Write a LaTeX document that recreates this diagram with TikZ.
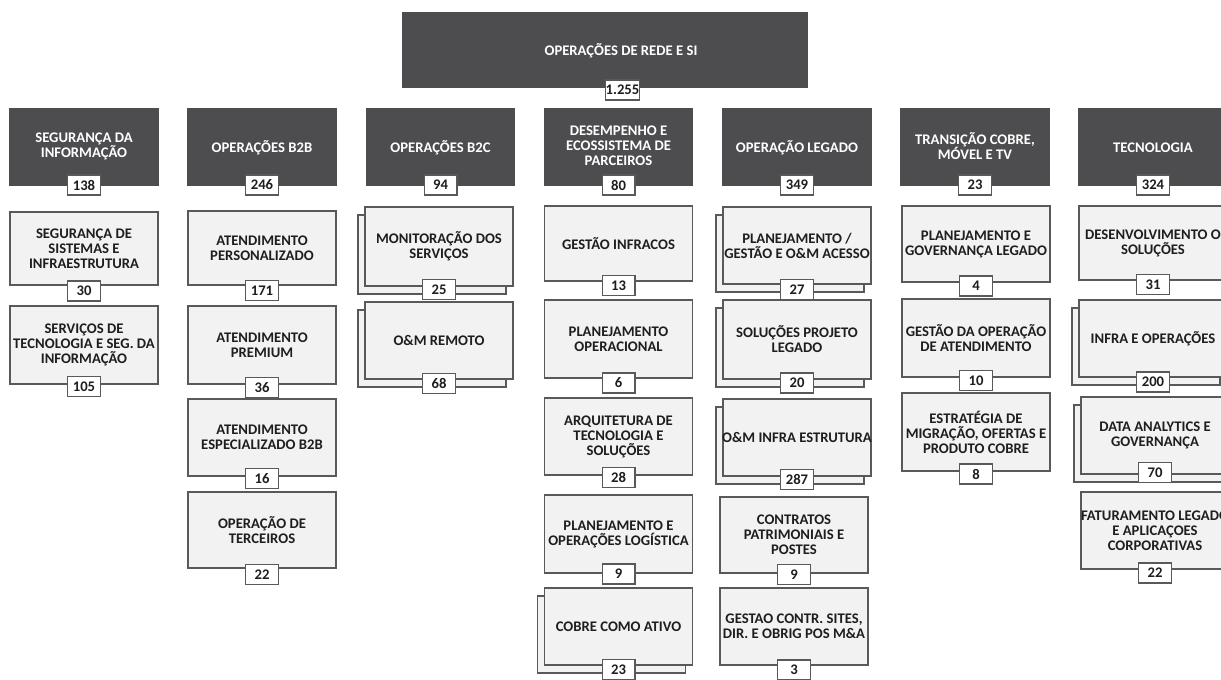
\documentclass[tikz,border=0pt]{standalone}
\usepackage{fontspec}
\setmainfont{Carlito}
\definecolor{hdr}{RGB}{77,77,79}
\definecolor{cfill}{RGB}{242,242,242}
\definecolor{edge}{RGB}{89,89,89}
\definecolor{txt}{RGB}{30,30,30}
\tikzset{
  hdrbox/.style={fill=hdr, draw=none, minimum width=112pt, minimum height=58.5pt, inner sep=0pt},
  hdrtext/.style={text=white, font=\bfseries\fontsize{11}{11.25}\selectfont, align=center, inner sep=0pt},
  childbox/.style={fill=cfill, draw=edge, line width=1.1pt, minimum width=111pt, inner sep=0pt},
  childtext/.style={text=txt, font=\bfseries\fontsize{11}{11.25}\selectfont, align=center, inner sep=0pt},
  numbox/.style={fill=white, draw=edge, line width=1pt, minimum width=24.5pt, minimum height=15pt, inner sep=0pt, text=txt, font=\bfseries\fontsize{11}{11}\selectfont}
}
\newcommand\HdrBox[5]{%
  \node[hdrbox] (#1) at (#2,147) {};
  \node[hdrtext] (#1t) at (#2,#3) {#4};
  \node[numbox] (#1n) at (#2,185) {#5};
}
\newcommand\ChildBox[7]{%
  \node[childbox, minimum height={(#4-#3)*0.75pt}] (#1) at (#2,{(#3+#4)/2}) {};
  \node[childtext] (#1t) at (#1.center) {#5};
  \node[numbox] (#1n) at (#2,#6) {#7};
}
\newcommand\StackBox[7]{%
  \node[childbox, minimum height={(#4-#3)*0.75pt}] (#1b) at ({#2-7},{(#3+#4)/2+8}) {};
  \node[childbox, minimum height={(#4-#3)*0.75pt}] (#1) at (#2,{(#3+#4)/2}) {};
  \node[childtext] (#1t) at (#1.center) {#5};
  \node[numbox] (#1n) at (#2,#6) {#7};
}
\begin{document}
\begin{tikzpicture}[x=0.75pt,y=-0.75pt]
\useasboundingbox (0,0) rectangle (1221,680);
\fill[white] (0,0) rectangle (1221,680);
\clip (0,0) rectangle (1221,680);
% top
\node[hdrbox, minimum width=304.5pt, minimum height=57pt] (top) at (605,50) {};
\node[hdrtext] (topt) at (621,51) {OPERAÇÕES DE REDE E SI};
\node[numbox] (topn) at (622.5,90) {1.255};
% headers
\HdrBox{h1}{84}{146}{SEGURANÇA DA\\INFORMAÇÃO}{138}
\HdrBox{h2}{262}{148}{OPERAÇÕES B2B}{246}
\HdrBox{h3}{440.5}{148}{OPERAÇÕES B2C}{94}
\HdrBox{h4}{618.5}{146}{DESEMPENHO E\\ECOSSISTEMA DE\\PARCEIROS}{80}
\HdrBox{h5}{797}{148}{OPERAÇÃO LEGADO}{349}
\HdrBox{h6}{975}{146}{TRANSIÇÃO COBRE,\\MÓVEL E TV}{23}
\HdrBox{h7}{1153}{148}{TECNOLOGIA}{324}
% column 1
\ChildBox{a1}{84}{212}{285}{SEGURANÇA DE\\SISTEMAS E\\INFRAESTRUTURA}{291}{30}
\ChildBox{a2}{84}{306}{384}{SERVIÇOS DE\\TECNOLOGIA E SEG. DA\\INFORMAÇÃO}{386.5}{105}
% column 2
\ChildBox{b1}{262}{211}{285}{ATENDIMENTO\\PERSONALIZADO}{290.5}{171}
\ChildBox{b2}{262}{306}{384}{ATENDIMENTO\\PREMIUM}{387.5}{36}
\ChildBox{b3}{262}{399}{476}{ATENDIMENTO\\ESPECIALIZADO B2B}{478.5}{16}
\ChildBox{b4}{262}{492}{568}{OPERAÇÃO DE\\TERCEIROS}{574.5}{22}
% column 3
\StackBox{c1}{439}{207}{286}{MONITORAÇÃO DOS\\SERVIÇOS}{289.5}{25}
\StackBox{c2}{439}{302}{379}{O\&M REMOTO}{383.5}{68}
% column 4
\ChildBox{d1}{618.5}{206}{281}{GESTÃO INFRACOS}{285.5}{13}
\ChildBox{d2}{618.5}{300}{378}{PLANEJAMENTO\\OPERACIONAL}{383}{6}
\ChildBox{d3}{618.5}{398}{475}{ARQUITETURA DE\\TECNOLOGIA E\\SOLUÇÕES}{477.5}{28}
\ChildBox{d4}{618.5}{495}{573}{PLANEJAMENTO E\\OPERAÇÕES LOGÍSTICA}{574}{9}
\StackBox{d5}{618.5}{588}{665}{COBRE COMO ATIVO}{669.5}{23}
% column 5
\StackBox{e1}{797}{207}{284}{PLANEJAMENTO /\\GESTÃO E O\&M ACESSO}{289.5}{27}
\StackBox{e2}{797}{300}{379}{SOLUÇÕES PROJETO\\LEGADO}{383}{20}
\StackBox{e3}{797}{399}{476}{O\&M INFRA ESTRUTURA}{479.5}{287}
\ChildBox{e4}{794}{497}{573}{CONTRATOS\\PATRIMONIAIS E\\POSTES}{574.5}{9}
\ChildBox{e5}{794}{588}{665}{GESTAO CONTR. SITES,\\DIR. E OBRIG POS M\&A}{670}{3}
% column 6
\ChildBox{f1}{976}{206}{282}{PLANEJAMENTO E\\GOVERNANÇA LEGADO}{286}{4}
\ChildBox{f2}{976}{299}{377}{GESTÃO DA OPERAÇÃO\\DE ATENDIMENTO}{380.5}{10}
\ChildBox{f3}{976}{393}{471}{ESTRATÉGIA DE\\MIGRAÇÃO, OFERTAS E\\PRODUTO COBRE}{474}{8}
% column 7
\ChildBox{g1}{1153}{206}{280}{DESENVOLVIMENTO O\\SOLUÇÕES}{284.5}{31}
\StackBox{g2}{1153}{300}{377}{INFRA E OPERAÇÕES}{382}{200}
\StackBox{g3}{1155}{397}{474}{DATA ANALYTICS E\\GOVERNANÇA}{472.5}{70}
\ChildBox{g4}{1155}{492}{569}{FATURAMENTO LEGADO\\E APLICAÇOES\\CORPORATIVAS}{573}{22}
\end{tikzpicture}
\end{document}
